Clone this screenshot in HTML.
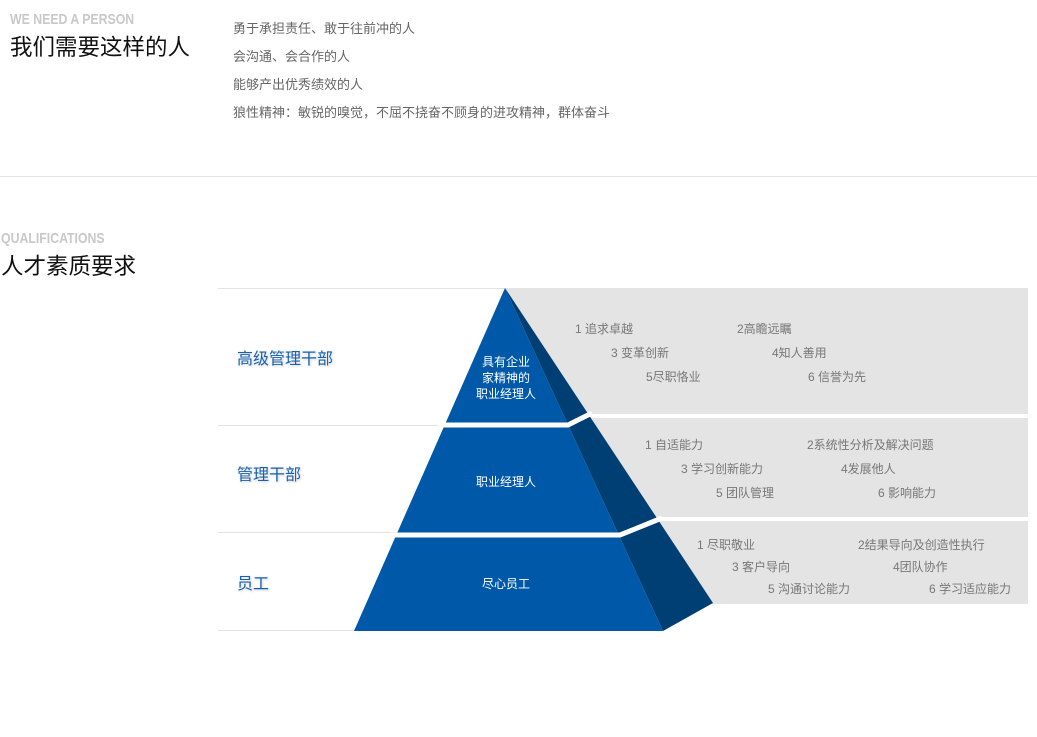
<!DOCTYPE html>
<html><head><meta charset="utf-8"><style>
body{margin:0;width:1037px;height:737px;background:#fff;position:relative;overflow:hidden;font-family:"Liberation Sans","Noto Sans CJK SC",sans-serif}
.a{position:absolute;white-space:nowrap}
.en{font-weight:bold;color:#c8c8c8;font-size:15px;transform:scaleX(0.82);transform-origin:left}
.h{font-size:22.5px;color:#111}
.l{font-size:13px;color:#666}
.g{font-size:12px;color:#777}
.b{font-size:16px;color:#1560b0;text-shadow:0 0 3px #fff,0 0 2px #ddd,1px 1px 2px #ccc}
.w{font-size:12px;color:#fff;text-align:center;line-height:16px}
</style></head><body>
<div class="a en" style="left:10px;top:11px">WE NEED A PERSON</div>
<div class="a h" style="left:10px;top:30px">我们需要这样的人</div>
<div class="a l" style="left:233px;top:18px">勇于承担责任、敢于往前冲的人</div>
<div class="a l" style="left:233px;top:46px">会沟通、会合作的人</div>
<div class="a l" style="left:233px;top:74px">能够产出优秀绩效的人</div>
<div class="a l" style="left:233px;top:102px">狼性精神：敏锐的嗅觉，不屈不挠奋不顾身的进攻精神，群体奋斗</div>
<div class="a" style="left:0;top:176px;width:1037px;height:1px;background:#e2e2e2"></div>
<div class="a en" style="left:1px;top:230px">QUALIFICATIONS</div>
<div class="a h" style="left:1px;top:249px">人才素质要求</div>
<svg class="a" style="left:0;top:0" width="1037" height="737">
<g stroke="#e2e2e2" stroke-width="1">
<line x1="218" y1="288.5" x2="505" y2="288.5"/>
<line x1="218" y1="425.5" x2="450" y2="425.5"/>
<line x1="218" y1="532.5" x2="400" y2="532.5"/>
<line x1="218" y1="630.5" x2="360" y2="630.5"/>
</g>
<rect x="505" y="288" width="523" height="126" fill="#e4e4e4"/>
<rect x="560" y="418" width="468" height="99" fill="#e4e4e4"/>
<rect x="620" y="521" width="408" height="83" fill="#e4e4e4"/>
<polygon points="505,288 713,603 663,631" fill="#003f74"/>
<polygon points="505,288 663,631 354,631" fill="#0059a8"/>
<polyline points="438,425 568,425 592,413" fill="none" stroke="#fff" stroke-width="5"/>
<polyline points="390,535 620,535 662,518" fill="none" stroke="#fff" stroke-width="5"/>
</svg>
<div class="a b" style="left:237px;top:345px">高级管理干部</div>
<div class="a b" style="left:237px;top:461px">管理干部</div>
<div class="a b" style="left:237px;top:570px">员工</div>
<div class="a w" style="left:466px;top:354px;width:80px">具有企业<br>家精神的<br>职业经理人</div>
<div class="a w" style="left:466px;top:474px;width:80px">职业经理人</div>
<div class="a w" style="left:466px;top:576px;width:80px">尽心员工</div>
<div class="a g" style="left:575px;top:320px">1 追求卓越</div>
<div class="a g" style="left:737px;top:320px">2高瞻远瞩</div>
<div class="a g" style="left:611px;top:344px">3 变革创新</div>
<div class="a g" style="left:772px;top:344px">4知人善用</div>
<div class="a g" style="left:646px;top:368px">5尽职恪业</div>
<div class="a g" style="left:808px;top:368px">6 信誉为先</div>
<div class="a g" style="left:645px;top:436px">1 自适能力</div>
<div class="a g" style="left:807px;top:436px">2系统性分析及解决问题</div>
<div class="a g" style="left:681px;top:460px">3 学习创新能力</div>
<div class="a g" style="left:841px;top:460px">4发展他人</div>
<div class="a g" style="left:716px;top:484px">5 团队管理</div>
<div class="a g" style="left:878px;top:484px">6 影响能力</div>
<div class="a g" style="left:697px;top:536px">1 尽职敬业</div>
<div class="a g" style="left:858px;top:536px">2结果导向及创造性执行</div>
<div class="a g" style="left:732px;top:558px">3 客户导向</div>
<div class="a g" style="left:893px;top:558px">4团队协作</div>
<div class="a g" style="left:768px;top:580px">5 沟通讨论能力</div>
<div class="a g" style="left:929px;top:580px">6 学习适应能力</div>
</body></html>
